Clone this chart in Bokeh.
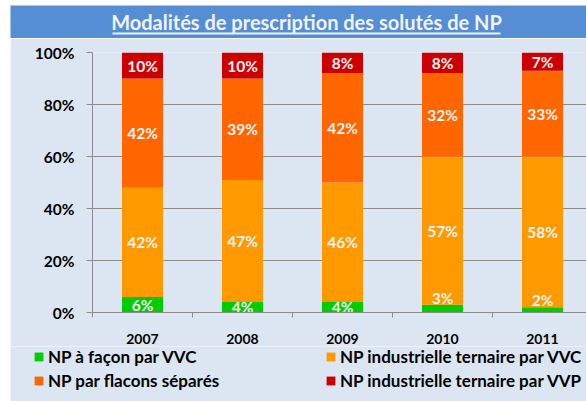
from bokeh.plotting import figure
from bokeh.layouts import column
from bokeh.models import (ColumnDataSource, FixedTicker, Legend, LegendItem, Range1d)
from bokeh.core.properties import value
from bokeh.embed import file_html
from bokeh.resources import INLINE

# ---------------- data ----------------
years = ["2007", "2008", "2009", "2010", "2011"]
np_facon_vvc = [6, 4, 4, 3, 2]
np_ind_ternaire_vvc = [42, 47, 46, 57, 58]
np_flacons_separes = [42, 39, 42, 32, 33]
np_ind_ternaire_vvp = [10, 10, 8, 8, 7]
series_names = ["NP à façon par VVC", "NP industrielle ternaire par VVC",
                "NP par flacons séparés", "NP industrielle ternaire par VVP"]
y_ticks = [0, 20, 40, 60, 80, 100]
y_tick_labels = ["0%", "20%", "40%", "60%", "80%", "100%"]
title_text = "Modalités de prescription des solutés de NP"

# ---------------- style ----------------
colors = ["#00cc00", "#ff9900", "#ff6600", "#cc0000"]
bg = "#dce6f2"
band = "#558ed5"
grid = "#8c8c8c"
FONT = "Lato"
W = 576

# ---------------- title strip ----------------
TH = 33
pt = figure(width=W, height=TH, output_backend="svg", toolbar_location=None,
            x_range=Range1d(0, W), y_range=Range1d(0, TH),
            x_axis_location=None, y_axis_location=None,
            min_border=0, frame_align=False)
pt.grid.visible = False
pt.background_fill_color = band
pt.border_fill_color = band
pt.outline_line_color = None
pt.text(x=[W / 2 + 8], y=[16.5], text=[title_text], text_align="center",
        text_baseline="middle", text_font=value(FONT), text_font_style="bold",
        text_font_size="20px", text_color="#f2f2f2")
pt.segment(x0=[102], y0=[5], x1=[490], y1=[5], line_color="#f2f2f2", line_width=2)

# ---------------- main chart ----------------
MH = 308
FL, FT, FB = 82, 14, 34
p = figure(width=W, height=MH, output_backend="svg", toolbar_location=None,
           x_range=Range1d(-0.5, -0.5 + (W - FL) / 100.0), y_range=Range1d(0, 100),
           min_border_left=FL, min_border_right=0, min_border_top=FT,
           min_border_bottom=FB, frame_align=False)
p.background_fill_color = bg
p.border_fill_color = bg
p.outline_line_color = None

xs = list(range(len(years)))
keys = ["s0", "s1", "s2", "s3"]
series = [np_facon_vvc, np_ind_ternaire_vvc, np_flacons_separes, np_ind_ternaire_vvp]
data = {"x": xs}
for k, s in zip(keys, series):
    data[k] = s
source = ColumnDataSource(data)

renderers = p.vbar_stack(keys, x="x", width=0.41, color=colors, source=source,
                         line_color=None)

# value labels (small segments: label sits just above the segment)
mid_x, mid_y, mid_t = [], [], []
top_x, top_y, top_t = [], [], []
for i in xs:
    bottom = 0
    for s in series:
        v = s[i]
        if v < 4:
            top_x.append(i); top_y.append(bottom + v); top_t.append(f"{v}%")
        else:
            mid_x.append(i); mid_y.append(bottom + v / 2); mid_t.append(f"{v}%")
        bottom += v

lab_kw = dict(text_font=value(FONT), text_font_style="bold",
              text_font_size="15.5px", text_color="#f4f4f4", text_align="center",
              text_baseline="middle")
p.text(x=mid_x, y=mid_y, text=mid_t, **lab_kw)
p.text(x=top_x, y=top_y, text=top_t, y_offset=-7, **lab_kw)

p.xgrid.grid_line_color = None
p.ygrid.grid_line_color = grid
p.ygrid.ticker = FixedTicker(ticks=y_ticks)

p.yaxis.ticker = FixedTicker(ticks=y_ticks)
p.yaxis.major_label_overrides = {t: l for t, l in zip(y_ticks, y_tick_labels)}
p.yaxis.major_tick_out = 6
p.yaxis.major_tick_in = 0
p.yaxis.minor_tick_line_color = None
p.yaxis.major_label_standoff = 12
p.yaxis.axis_line_color = grid
p.yaxis.major_tick_line_color = grid
p.yaxis.major_label_text_font = FONT
p.yaxis.major_label_text_font_style = "bold"
p.yaxis.major_label_text_font_size = "15.5px"
p.yaxis.major_label_text_color = "#000000"

p.xaxis.ticker = FixedTicker(ticks=xs, minor_ticks=[i - 0.5 for i in xs] + [xs[-1] + 0.5])
p.xaxis.major_label_overrides = {i: y for i, y in zip(xs, years)}
p.xaxis.major_tick_line_color = None
p.xaxis.major_tick_out = 0
p.xaxis.major_tick_in = 0
p.xaxis.minor_tick_out = 5
p.xaxis.minor_tick_in = 0
p.xaxis.minor_tick_line_color = grid
p.xaxis.axis_line_color = grid
p.xaxis.major_label_standoff = 16
p.xaxis.major_label_text_font = FONT
p.xaxis.major_label_text_font_style = "bold"
p.xaxis.major_label_text_font_size = "14px"
p.xaxis.major_label_text_color = "#000000"

# ---------------- legend strip ----------------
LH = 401 - 5 - TH - MH
pl = figure(width=W, height=LH, output_backend="svg", toolbar_location=None,
            x_range=Range1d(0, W), y_range=Range1d(0, LH),
            x_axis_location=None, y_axis_location=None,
            min_border=0, frame_align=False)
pl.grid.visible = False
pl.background_fill_color = bg
pl.border_fill_color = bg
pl.outline_line_color = None
nan = float("nan")
dummy = [pl.vbar(x=[nan], top=[nan], width=0.4, fill_color=c, line_color=None)
         for c in colors]

def make_legend(idx, loc):
    lg = Legend(items=[LegendItem(label=series_names[i], renderers=[dummy[i]]) for i in idx],
                location=loc, orientation="vertical")
    lg.background_fill_alpha = 0
    lg.border_line_color = None
    lg.margin = 0
    lg.padding = 0
    lg.spacing = 3
    lg.label_height = 20
    lg.glyph_width = 11
    lg.glyph_height = 11
    lg.label_standoff = 4
    lg.label_text_font = FONT
    lg.label_text_font_style = "bold"
    lg.label_text_font_size = "17px"
    lg.label_text_color = "#000000"
    return lg

pl.add_layout(make_legend([0, 2], (23, 10)))
pl.add_layout(make_legend([1, 3], (315, 10)))

layout = column(pt, p, pl, spacing=0, margin=(5, 0, 0, 10))
open("out.html", "w").write(file_html(layout, INLINE))
